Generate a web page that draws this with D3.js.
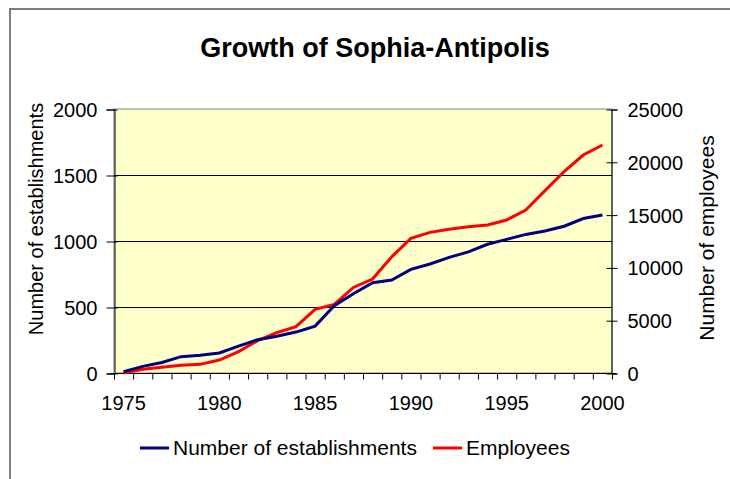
<!DOCTYPE html>
<html>
<head>
<meta charset="utf-8">
<script src="https://cdn.jsdelivr.net/npm/d3@7"></script>
<style>
  body { margin: 0; background: #fff; }
  text { font-family: "Liberation Sans", Arial, sans-serif; fill: #000; }
</style>
</head>
<body>
<div id="chart"></div>
<script>

// data
var years = [1975, 1976, 1977, 1978, 1979, 1980, 1981, 1982, 1983, 1984, 1985, 1986, 1987,
             1988, 1989, 1990, 1991, 1992, 1993, 1994, 1995, 1996, 1997, 1998, 1999, 2000];
var establishments = [10, 50, 80, 124, 134, 152, 204, 252, 278, 310, 355, 510, 600,
                      684, 705, 785, 826, 876, 918, 975, 1012, 1050, 1076, 1112, 1170, 1197];
var employees = [0, 350, 540, 730, 820, 1230, 2020, 3060, 3820, 4390, 6030, 6500, 8100,
                 8900, 11000, 12750, 13320, 13620, 13860, 14020, 14490, 15440, 17270, 19070, 20640, 21590];
var leftTicks = [0, 500, 1000, 1500, 2000];
var rightTicks = [0, 5000, 10000, 15000, 20000, 25000];
var yearLabels = [1975, 1980, 1985, 1990, 1995, 2000];

const width = 730, height = 479;
const plot = {left: 114, right: 612, top: 109, bottom: 373};

const svg = d3.select("#chart")
  .append("svg")
    .attr("width", width)
    .attr("height", height);

// outer frame (only left and top edges visible)
svg.append("path")
  .attr("d", "M10,479 V9 H730")
  .attr("fill", "none")
  .attr("stroke", "#808080")
  .attr("stroke-width", 2);

// title
svg.append("text")
  .attr("x", 375)
  .attr("y", 57)
  .attr("text-anchor", "middle")
  .style("font-size", "27px")
  .style("font-weight", "bold")
  .text("Growth of Sophia-Antipolis");

// scales
const x = d3.scaleBand()
  .domain(years)
  .range([plot.left, plot.right])
  .padding(0);
const xEdge = d3.scaleLinear()
  .domain([0, years.length])
  .range([plot.left, plot.right]);
const yLeft = d3.scaleLinear()
  .domain([0, 2000])
  .range([plot.bottom, plot.top]);
const yRight = d3.scaleLinear()
  .domain([0, 25000])
  .range([plot.bottom, plot.top]);

// plot area
svg.append("rect")
  .attr("x", plot.left)
  .attr("y", plot.top)
  .attr("width", plot.right - plot.left)
  .attr("height", plot.bottom - plot.top)
  .attr("fill", "#ffffcc")
  .attr("stroke", "#808080")
  .attr("stroke-width", 1);

// gridlines on the left scale
svg.append("g")
  .selectAll("line")
  .data(leftTicks.filter(d => d > 0 && d < 2000))
  .join("line")
    .attr("x1", plot.left)
    .attr("x2", plot.right)
    .attr("y1", d => yLeft(d) + 0.5)
    .attr("y2", d => yLeft(d) + 0.5)
    .attr("stroke", "#000")
    .attr("stroke-width", 1);

// left axis
const gL = svg.append("g")
  .attr("transform", `translate(${plot.left + 0.5},0.5)`)
  .call(d3.axisLeft(yLeft).tickValues(leftTicks).tickSize(8).tickPadding(9).tickFormat(d3.format("d")));
gL.selectAll(".tick line").attr("x1", 3);
gL.selectAll(".tick text").style("font-size", "20px").attr("dy", "0.35em");

// right axis
const gR = svg.append("g")
  .attr("transform", `translate(${plot.right - 0.5},0.5)`)
  .call(d3.axisRight(yRight).tickValues(rightTicks).tickSize(6).tickPadding(10).tickFormat(d3.format("d")));
gR.selectAll(".tick line").attr("x1", -5);
gR.selectAll(".tick text").style("font-size", "20px").attr("dy", "0.35em");

// bottom axis: tick marks between categories, labels every 5 years
const gB = svg.append("g")
  .attr("transform", `translate(0,${plot.bottom + 0.5})`)
  .call(d3.axisBottom(xEdge).ticks(years.length).tickSize(6).tickFormat(""));
gB.select(".domain").remove();
const gBL = svg.append("g")
  .attr("transform", `translate(0,${plot.bottom})`)
  .call(d3.axisBottom(x).tickValues(yearLabels).tickSize(0).tickPadding(23));
gBL.select(".domain").remove();
gBL.selectAll(".tick text").style("font-size", "20px");

svg.append("line")
  .attr("x1", plot.left - 4)
  .attr("x2", plot.right + 4)
  .attr("y1", plot.bottom + 0.5)
  .attr("y2", plot.bottom + 0.5)
  .attr("stroke", "#000");

[gL, gR, gB].forEach(g => {
  g.selectAll(".domain").attr("stroke", "#000");
  g.selectAll(".tick line").attr("stroke", "#000");
});

// axis titles
svg.append("text")
  .attr("transform", "translate(43,219) rotate(-90)")
  .attr("text-anchor", "middle")
  .style("font-size", "20px")
  .text("Number of establishments");
svg.append("text")
  .attr("transform", "translate(714,238) rotate(-90)")
  .attr("text-anchor", "middle")
  .style("font-size", "21px")
  .text("Number of employees");

// lines
const cx = d => x(d) + x.bandwidth() / 2;
const lineEst = d3.line()
  .x((d, i) => cx(years[i]))
  .y(d => yLeft(d));
const lineEmp = d3.line()
  .x((d, i) => cx(years[i]))
  .y(d => yRight(d));

svg.append("path")
  .datum(employees)
  .attr("fill", "none")
  .attr("stroke", "#ff0000")
  .attr("stroke-width", 3)
  .attr("d", lineEmp);
svg.append("path")
  .datum(establishments)
  .attr("fill", "none")
  .attr("stroke", "#000080")
  .attr("stroke-width", 3)
  .attr("d", lineEst);

// legend
const legendItems = [
  {name: "Number of establishments", color: "#000080", x: 140},
  {name: "Employees", color: "#ff0000", x: 433}
];
const lg = svg.append("g").selectAll("g")
  .data(legendItems)
  .join("g")
    .attr("transform", d => `translate(${d.x},448)`);
lg.append("line")
  .attr("x1", 0)
  .attr("x2", 29)
  .attr("stroke", d => d.color)
  .attr("stroke-width", 3);
lg.append("text")
  .attr("x", 33)
  .attr("dy", "0.35em")
  .style("font-size", "21px")
  .text(d => d.name);

</script>
</body>
</html>
